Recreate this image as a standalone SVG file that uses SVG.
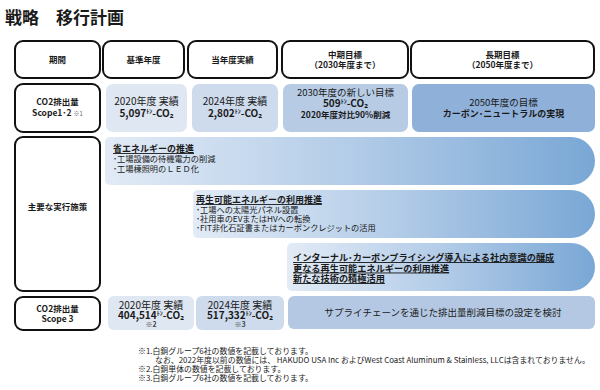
<svg xmlns="http://www.w3.org/2000/svg" width="600" height="390" viewBox="0 0 600 390">
<defs>
<linearGradient id="arrowGrad" x1="0" y1="0" x2="1" y2="0">
<stop offset="0" stop-color="#e2ebf6"/>
<stop offset="0.5" stop-color="#b3cce8"/>
<stop offset="1" stop-color="#79a7d5"/>
</linearGradient>
<style>
text{font-family:"Noto Sans CJK JP","Noto Sans",sans-serif;fill:#1a1a1a}
.hdr{fill:#fff;stroke:#111;stroke-width:2}
.h{font-size:8.5px;font-weight:bold;text-anchor:middle}
.c{text-anchor:middle}
.n{font-size:10px}
.b{font-size:10px;font-weight:bold}
.s{font-size:7px;font-weight:bold;text-anchor:middle;fill:#444}
.hd{font-size:9px;font-weight:bold;text-decoration:underline}
.bl{font-size:8.2px}
.big{font-size:9.2px;font-weight:bold;text-decoration:underline}
.fn{font-size:7.9px}
.sup{font-size:6px}
</style>
</defs>
<rect width="600" height="390" fill="#fff"/>
<text x="5" y="24" style="font-size:17px;font-weight:bold">戦略　移行計画</text>

<g id="header-period"><rect class="hdr" x="15" y="41" width="85" height="37" rx="8"/><text class="h" x="57.5" y="63">期間</text></g>
<g id="header-base"><rect class="hdr" x="103" y="41" width="81" height="37" rx="8"/><text class="h" x="143.5" y="63">基準年度</text></g>
<g id="header-current"><rect class="hdr" x="188" y="41" width="89" height="37" rx="8"/><text class="h" x="232.5" y="63">当年度実績</text></g>
<g id="header-mid"><rect class="hdr" x="282" y="41" width="126" height="37" rx="8"/><text class="h" x="345" y="58">中期目標</text><text class="h" x="345" y="68">（2030年度まで）</text></g>
<g id="header-long"><rect class="hdr" x="411" y="41" width="183" height="37" rx="8"/><text class="h" x="502.5" y="58">長期目標</text><text class="h" x="502.5" y="68">（2050年度まで）</text></g>

<g id="label-scope12"><rect class="hdr" x="15" y="84" width="85" height="48" rx="8"/><text class="h" x="57.5" y="105">CO2排出量</text><text class="h" x="57.5" y="116">Scope1･2 <tspan style="font-size:6px;font-weight:normal;fill:#666">※1</tspan></text></g>
<g id="s12-2020"><rect x="106" y="84" width="81" height="48" rx="7" fill="#dfe7f2"/><text class="c n" x="146.5" y="105">2020年度 実績</text><text class="c b" x="146.5" y="117">5,097<tspan class="sup" dy="-4">ﾄﾝ</tspan><tspan dy="4">-CO₂</tspan></text></g>
<g id="s12-2024"><rect x="192" y="84" width="86" height="48" rx="7" fill="#cddbed"/><text class="c n" x="235" y="105">2024年度 実績</text><text class="c b" x="235" y="117">2,802<tspan class="sup" dy="-4">ﾄﾝ</tspan><tspan dy="4">-CO₂</tspan></text></g>
<g id="s12-2030"><rect x="283" y="84" width="125" height="48" rx="7" fill="#b7cbe5"/><text class="c" x="345.5" y="96" style="font-size:9.5px">2030年度の新しい目標</text><text class="c b" x="345.5" y="107">509<tspan class="sup" dy="-4">ﾄﾝ</tspan><tspan dy="4">-CO₂</tspan></text><text class="c" x="345.5" y="118" style="font-size:8.5px;font-weight:bold">2020年度対比90%削減</text></g>
<g id="s12-2050"><rect x="412" y="84" width="183" height="48" rx="7" fill="#8fb0d9"/><text class="c" x="503.5" y="106" style="font-size:9.5px">2050年度の目標</text><text class="c" x="503.5" y="117" style="font-size:9px;font-weight:bold">カーボン･ニュートラルの実現</text></g>

<g id="label-measures"><rect class="hdr" x="15" y="137" width="85" height="154" rx="8"/><text class="h" x="57.5" y="210">主要な実行施策</text></g>
<g id="measure-1"><path d="M110,137 H571 A24,24 0 0 1 571,185 H110 A5,5 0 0 1 105,180 V142 A5,5 0 0 1 110,137 Z" fill="url(#arrowGrad)"/><text class="hd" x="113" y="152">省エネルギーの推進</text><text class="bl" x="113" y="162">･工場設備の待機電力の削減</text><text class="bl" x="113" y="172">･工場棟照明のＬＥＤ化</text></g>
<g id="measure-2"><path d="M198,190 H571 A24,24 0 0 1 571,238 H198 A5,5 0 0 1 193,233 V195 A5,5 0 0 1 198,190 Z" fill="url(#arrowGrad)"/><text class="hd" x="196" y="203">再生可能エネルギーの利用推進</text><text class="bl" x="196" y="212.5">･工場への太陽光パネル設置</text><text class="bl" x="196" y="221.5">･社用車のEVまたはHVへの転換</text><text class="bl" x="196" y="230.5">･FIT非化石証書またはカーボンクレジットの活用</text></g>
<g id="measure-3"><path d="M292,243 H571 A24,24 0 0 1 571,291 H292 A5,5 0 0 1 287,286 V248 A5,5 0 0 1 292,243 Z" fill="url(#arrowGrad)"/><text class="big" x="293" y="261">インターナル･カーボンプライシング導入による社内意識の醸成</text><text class="big" x="293" y="271.5">更なる再生可能エネルギーの利用推進</text><text class="big" x="293" y="282">新たな技術の積極活用</text></g>

<g id="label-scope3"><rect class="hdr" x="15" y="297" width="85" height="33" rx="8"/><text class="h" x="57.5" y="312">CO2排出量</text><text class="h" x="57.5" y="322">Scope 3</text></g>
<g id="s3-2020"><rect x="108" y="296" width="86" height="34" rx="6" fill="#dfe7f2"/><text class="c n" x="151" y="308.5">2020年度 実績</text><text class="c b" x="151" y="318.5">404,514<tspan class="sup" dy="-4">ﾄﾝ</tspan><tspan dy="4">-CO₂</tspan></text><text class="s" x="151" y="327">※2</text></g>
<g id="s3-2024"><rect x="196" y="296" width="88" height="34" rx="6" fill="#cddbed"/><text class="c n" x="240" y="308.5">2024年度 実績</text><text class="c b" x="240" y="318.5">517,332<tspan class="sup" dy="-4">ﾄﾝ</tspan><tspan dy="4">-CO₂</tspan></text><text class="s" x="240" y="327">※3</text></g>
<g id="s3-target"><rect x="288" y="296" width="307" height="33" rx="6" fill="#b4c8e3"/><text class="c" x="443" y="315.5" style="font-size:9.5px">サプライチェーンを通じた排出量削減目標の設定を検討</text></g>

<g id="connectors"/>

<g id="notes">
<text class="fn" x="138" y="353.5">※1.白銅グループ6社の数値を記載しております。</text>
<text class="fn" x="155" y="363">なお、2022年度以前の数値には、 HAKUDO USA Inc およびWest Coast Aluminum &amp; Stainless, LLCは含まれておりません。</text>
<text class="fn" x="138" y="372">※2.白銅単体の数値を記載しております。</text>
<text class="fn" x="138" y="381">※3.白銅グループ6社の数値を記載しております。</text>
</g>
</svg>
